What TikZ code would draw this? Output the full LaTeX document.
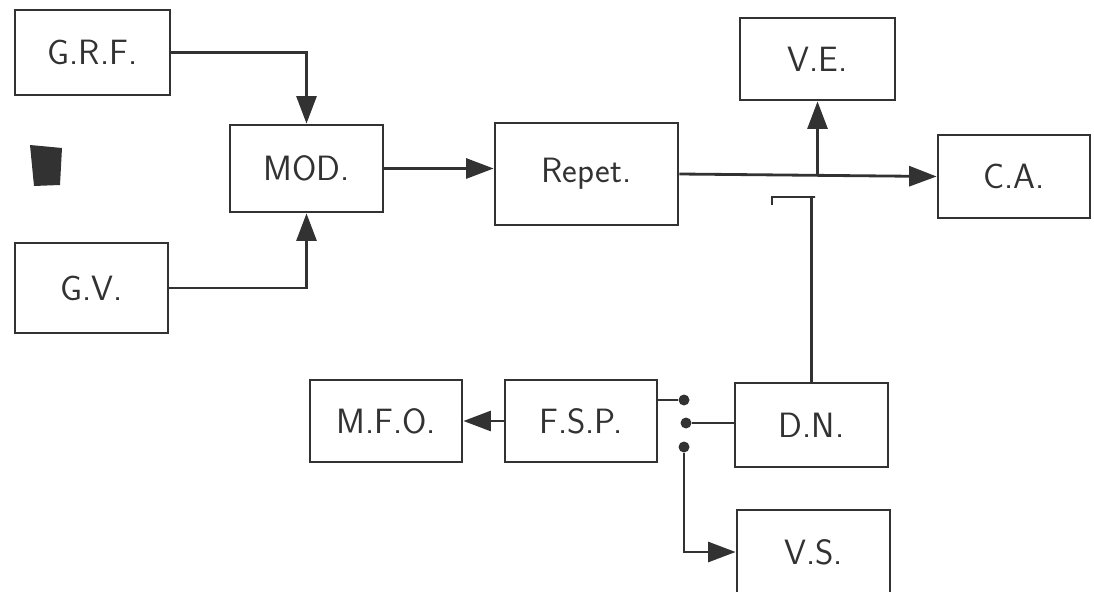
\documentclass[tikz,border=0pt]{standalone}
\usepackage{tikz}
\usetikzlibrary{arrows.meta, positioning, calc}
\definecolor{inkgray}{RGB}{50,50,50}

\begin{document}
\begin{tikzpicture}[
    x=0.02cm, y=-0.02cm,
    every node/.style={font=\sffamily\fontsize{20}{24}\selectfont, text=inkgray},
    blockbox/.style={draw=inkgray, line width=1.6pt, minimum width=3.06cm, minimum height=1.7cm, inner sep=0pt},
    wire/.style={draw=inkgray, line width=1.6pt},
    sig/.style={wire, -{Triangle[length=0.55cm, width=0.4cm]}},
    tapdot/.style={circle, fill=inkgray, inner sep=0pt, minimum size=0.22cm}]
  \useasboundingbox (0,0) rectangle (1094,591);
  \clip (0,0) rectangle (1094,591);
  % blocks
  \node[blockbox, minimum width=3.1cm] (grf) at (92.5,52.5) {G.R.F.};
  \node[blockbox, minimum height=1.8cm] (gv) at (91.5,288) {G.V.};
  \node[blockbox, minimum height=1.74cm] (mod) at (306.5,168.5) {MOD.};
  \node[blockbox, minimum width=3.66cm, minimum height=2.04cm] (rep) at (586.5,174) {Repet.};
  \node[blockbox, minimum width=3.1cm, minimum height=1.64cm] (ve) at (817.5,59) {V.E.};
  \node[blockbox, minimum width=3.04cm, minimum height=1.66cm] (ca) at (1014,176.5) {C.A.};
  \node[blockbox, minimum width=3.04cm, minimum height=1.64cm] (mfo) at (386,421) {M.F.O.};
  \node[blockbox, minimum width=3.04cm, minimum height=1.64cm] (fsp) at (581,421) {F.S.P.};
  \node[blockbox, minimum height=1.68cm] (dn) at (811.5,425) {D.N.};
  \node[blockbox, minimum height=1.68cm] (vs) at (813.5,552) {V.S.};
  % scan blot
  \fill[inkgray] (30,145) -- (62,148) -- (60,185) -- (34,186) -- cycle;
  % switch contacts
  \node[tapdot] (ka) at (684,400) {};
  \node[tapdot] (kb) at (686,423) {};
  \node[tapdot] (kc) at (684,447) {};
  \coordinate (hooka) at (815,197);
  \coordinate (hookb) at (772,205);
  % connectors
  \draw[sig] (grf.east) -| (mod.north);
  \draw[sig] (gv.east) -| (mod.south);
  \draw[sig] (mod.east) -- (mod.east -| rep.west);
  \draw[sig] (rep.east) -- (ca.west);
  \draw[sig] (ve.south |- rep.east) -- (ve.south);
  \draw[wire] (dn.north) |- (hooka) -| (hookb);
  \draw[wire] (fsp.east |- ka) -- (ka);
  \draw[wire] (kb) -- (dn.west |- kb);
  \draw[sig] (kc) |- (vs.west);
  \draw[sig] (fsp.west) -- (mfo.east);
\end{tikzpicture}
\end{document}
